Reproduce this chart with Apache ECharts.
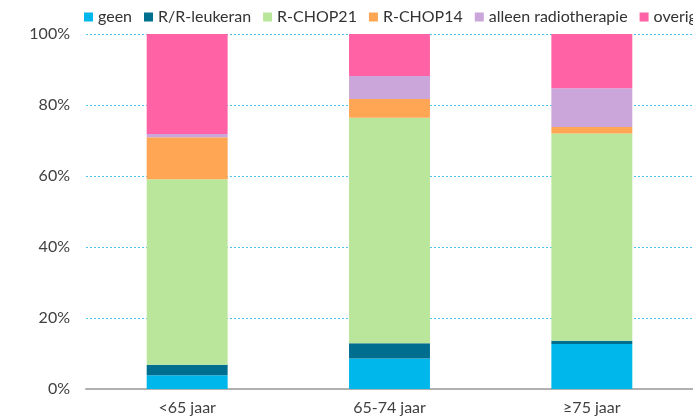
<!DOCTYPE html>
<html>
<head>
<meta charset="utf-8">
<script src="https://cdn.jsdelivr.net/npm/echarts@6/dist/echarts.min.js"></script>
<style>
  html, body { margin: 0; padding: 0; background: #fff; }
  #chart { width: 693px; height: 417px; }
</style>
</head>
<body>
<div id="chart"></div>
<script>
const categories = ['<65 jaar', '65-74 jaar', '≥75 jaar']
const yTicks = [0, 20, 40, 60, 80, 100]

const geen = [3.9, 8.6, 12.7]
const leukeran = [2.9, 4.3, 0.9]
const rchop21 = [52.3, 63.5, 58.4]
const rchop14 = [11.8, 5.3, 1.8]
const radiotherapie = [0.9, 6.5, 10.9]
const overig = [28.2, 11.8, 15.3]

const seriesNames = ['geen', 'R/R-leukeran', 'R-CHOP21', 'R-CHOP14', 'alleen radiotherapie', 'overig']
const seriesData = [geen, leukeran, rchop21, rchop14, radiotherapie, overig]
const colors = ['#00b7eb', '#006e8e', '#b9e69a', '#ffa655', '#cba6da', '#ff63a6']

const chart = echarts.init(document.getElementById('chart'))

chart.setOption({
  animation: false,
  textStyle: { fontFamily: 'Lato' },
  legend: {
    left: 84,
    top: 9,
    padding: 0,
    width: 1000,
    itemWidth: 9,
    itemHeight: 9,
    itemGap: 12,
    icon: 'rect',
    data: seriesNames,
    textStyle: { color: '#333', fontSize: 16, fontFamily: 'Lato' },
  },
  grid: { left: 86, top: 34, width: 621, height: 355 },
  xAxis: {
    type: 'category',
    data: categories,
    axisLine: { lineStyle: { color: '#b0b0b0', width: 2 } },
    axisTick: { show: false },
    axisLabel: { color: '#404040', fontSize: 16, margin: 11 },
  },
  yAxis: {
    type: 'value',
    min: yTicks[0],
    max: yTicks[yTicks.length - 1],
    interval: 20,
    axisLine: { show: false },
    axisTick: { show: false },
    axisLabel: { color: '#404040', fontSize: 16, margin: 16, formatter: '{value}%' },
    splitLine: { lineStyle: { color: '#4cc3ee', type: [2, 2], width: 1 } },
  },
  series: seriesNames.map((name, i) => ({
    name,
    type: 'bar',
    stack: 'total',
    barWidth: '40%',
    data: seriesData[i],
    itemStyle: { color: colors[i] },
  })),
})
</script>
</body>
</html>
